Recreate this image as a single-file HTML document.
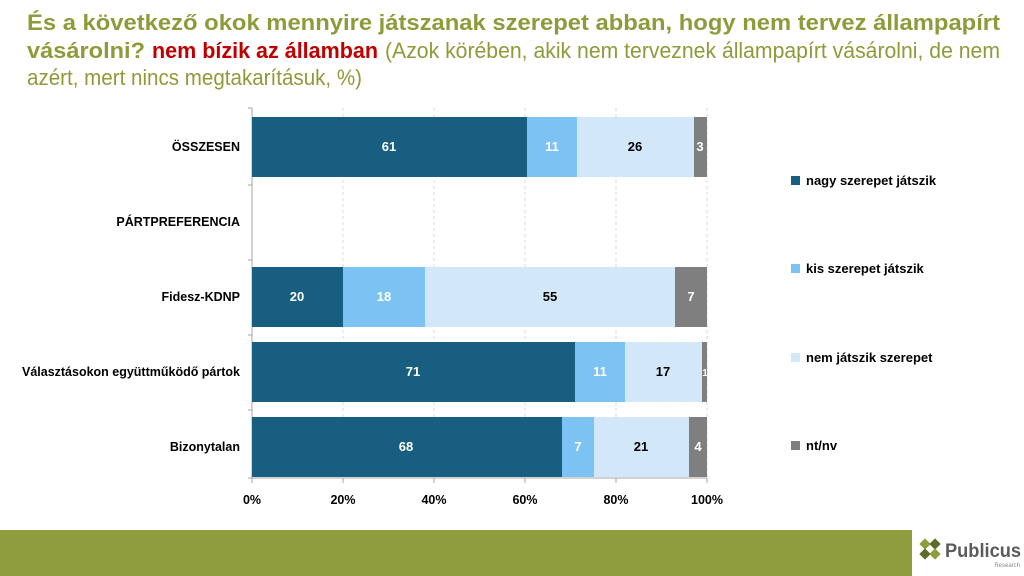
<!DOCTYPE html>
<html><head><meta charset="utf-8"><style>body{margin:0;background:#fff}svg{display:block}</style></head>
<body>
<svg width="1024" height="576" xmlns="http://www.w3.org/2000/svg" font-family="Liberation Sans, sans-serif">
<g font-size="22" fill="#8b9c3a">
<text x="27" y="30" font-weight="bold" textLength="973" lengthAdjust="spacingAndGlyphs">És a következő okok mennyire játszanak szerepet abban, hogy nem tervez állampapírt</text>
<text x="27" y="58" font-weight="bold" textLength="118" lengthAdjust="spacingAndGlyphs">vásárolni?</text>
<text x="152" y="58" font-weight="bold" fill="#c00000" textLength="226" lengthAdjust="spacingAndGlyphs">nem bízik az államban</text>
<text x="385" y="58" textLength="615" lengthAdjust="spacingAndGlyphs">(Azok körében, akik nem terveznek állampapírt vásárolni, de nem</text>
<text x="27" y="85" textLength="335" lengthAdjust="spacingAndGlyphs">azért, mert nincs megtakarításuk, %)</text>
</g>
<g stroke="#d9d9d9" stroke-dasharray="3,3">
<line x1="343" y1="108" x2="343" y2="478"/><line x1="434" y1="108" x2="434" y2="478"/><line x1="525" y1="108" x2="525" y2="478"/><line x1="616" y1="108" x2="616" y2="478"/><line x1="707" y1="108" x2="707" y2="478"/>
</g>
<g stroke="#a6a6a6">
<line x1="252" y1="108" x2="252" y2="478"/><line x1="252" y1="478" x2="707" y2="478"/>
<line x1="248" y1="108" x2="252" y2="108"/><line x1="248" y1="185" x2="252" y2="185"/><line x1="248" y1="260" x2="252" y2="260"/><line x1="248" y1="335" x2="252" y2="335"/><line x1="248" y1="410" x2="252" y2="410"/><line x1="248" y1="478" x2="252" y2="478"/>
<line x1="252" y1="478" x2="252" y2="483"/><line x1="343" y1="478" x2="343" y2="483"/><line x1="434" y1="478" x2="434" y2="483"/><line x1="525" y1="478" x2="525" y2="483"/><line x1="616" y1="478" x2="616" y2="483"/><line x1="707" y1="478" x2="707" y2="483"/>
</g>
<g>
<rect x="252" y="117" width="275" height="60" fill="#175e80"/><rect x="527" y="117" width="50" height="60" fill="#7cc2f2"/><rect x="577" y="117" width="117" height="60" fill="#d2e8f9"/><rect x="694" y="117" width="13" height="60" fill="#7f7f7f"/>
<rect x="252" y="267" width="91" height="60" fill="#175e80"/><rect x="343" y="267" width="82" height="60" fill="#7cc2f2"/><rect x="425" y="267" width="250" height="60" fill="#d2e8f9"/><rect x="675" y="267" width="32" height="60" fill="#7f7f7f"/>
<rect x="252" y="342" width="323" height="60" fill="#175e80"/><rect x="575" y="342" width="50" height="60" fill="#7cc2f2"/><rect x="625" y="342" width="77" height="60" fill="#d2e8f9"/><rect x="702" y="342" width="5" height="60" fill="#7f7f7f"/>
<rect x="252" y="417" width="310" height="60" fill="#175e80"/><rect x="562" y="417" width="32" height="60" fill="#7cc2f2"/><rect x="594" y="417" width="95" height="60" fill="#d2e8f9"/><rect x="689" y="417" width="18" height="60" fill="#7f7f7f"/>
</g>
<g font-size="13" font-weight="bold" text-anchor="middle" fill="#fff">
<text x="389" y="151">61</text><text x="552" y="151">11</text><text x="635" y="151" fill="#000">26</text><text x="700" y="151">3</text>
<text x="297" y="301">20</text><text x="384" y="301">18</text><text x="550" y="301" fill="#000">55</text><text x="691" y="301">7</text>
<text x="413" y="376">71</text><text x="600" y="376">11</text><text x="663" y="376" fill="#000">17</text><text x="705" y="376" font-size="10">1</text>
<text x="406" y="451">68</text><text x="578" y="451">7</text><text x="641" y="451" fill="#000">21</text><text x="698" y="451">4</text>
</g>
<g font-size="12.5" font-weight="bold" text-anchor="end" fill="#000">
<text x="240" y="151">ÖSSZESEN</text><text x="240" y="226">PÁRTPREFERENCIA</text><text x="240" y="301">Fidesz-KDNP</text><text x="240" y="376" textLength="218" lengthAdjust="spacingAndGlyphs">Választásokon együttműködő pártok</text><text x="240" y="451">Bizonytalan</text>
</g>
<g font-size="12.5" font-weight="bold" text-anchor="middle" fill="#000">
<text x="252" y="504">0%</text><text x="343" y="504">20%</text><text x="434" y="504">40%</text><text x="525" y="504">60%</text><text x="616" y="504">80%</text><text x="707" y="504">100%</text>
</g>
<g font-size="13" font-weight="bold" fill="#000">
<rect x="791" y="176" width="9" height="9" fill="#175e80"/><text x="806" y="185">nagy szerepet játszik</text>
<rect x="791" y="264" width="9" height="9" fill="#7cc2f2"/><text x="806" y="273">kis szerepet játszik</text>
<rect x="791" y="353" width="9" height="9" fill="#d2e8f9"/><text x="806" y="362">nem játszik szerepet</text>
<rect x="791" y="441" width="9" height="9" fill="#7f7f7f"/><text x="806" y="450">nt/nv</text>
</g>
<rect x="0" y="530" width="912" height="46" fill="#8f9d3e"/>
<g fill="#8f9d3e">
<rect x="921" y="540" width="8" height="8" transform="rotate(45 925 544)"/>
<rect x="931" y="540" width="8" height="8" transform="rotate(45 935 544)" fill="#5a6b2a"/>
<rect x="921" y="550" width="8" height="8" transform="rotate(45 925 554)" fill="#5a6b2a"/>
<rect x="931" y="550" width="8" height="8" transform="rotate(45 935 554)"/>
</g>
<text x="945" y="557" font-size="19" font-weight="bold" fill="#5b5b5b" textLength="76" lengthAdjust="spacingAndGlyphs">Publicus</text>
<text x="1020" y="567" font-size="6" text-anchor="end" fill="#8a8a8a">Research</text>
</svg>
</body></html>
